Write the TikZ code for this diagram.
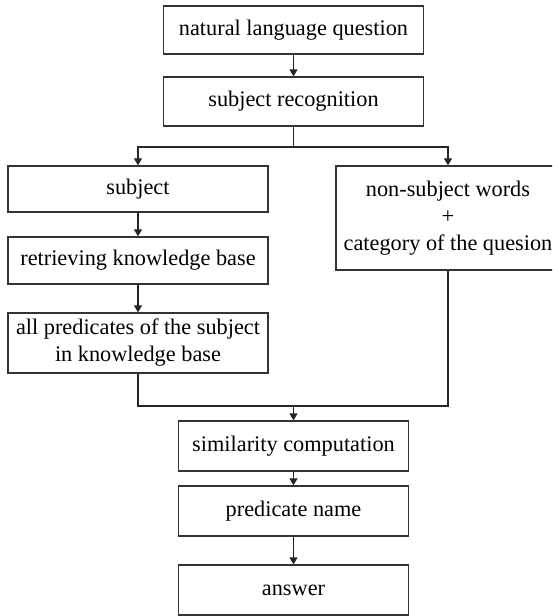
\documentclass[tikz,border=0pt]{standalone}
\usepackage{fontspec}
\setmainfont{Liberation Serif}
\usetikzlibrary{arrows.meta}
\tikzset{
	boite/.style={draw=black!80, line width=1.3pt, inner sep=0pt, align=center,
		font=\fontsize{22.3}{27}\selectfont},
	fleche/.style={draw=black!85, line width=1.2pt, -{Triangle[length=7pt,width=8pt]}},
	trait/.style={draw=black!85, line width=1.2pt}
}
\begin{document}
\begin{tikzpicture}[x=1pt,y=-1pt]
	\useasboundingbox (0,0) rectangle (552,616);
	\clip (0,0) rectangle (552,616);
	% les boites
	\node[boite, minimum width=260pt, minimum height=48pt] (question) at (293.5,30) {natural language question};
	\node[boite, minimum width=260pt, minimum height=49pt] (reco) at (293.5,101.5) {subject recognition};
	\node[boite, minimum width=260pt, minimum height=46pt] (sujet) at (138,189) {subject};
	\node[boite, minimum width=260pt, minimum height=47pt] (recherche) at (138,260.5) {retrieving knowledge base};
	\node[boite, minimum width=260pt, minimum height=60pt] (predicats) at (138,343) {all predicates of the subject\\in knowledge base};
	\node[boite, minimum width=224pt, minimum height=104pt] (autres) at (448,218) {non-subject words\\+\\category of the quesion};
	\node[boite, minimum width=230pt, minimum height=50pt] (similarite) at (293.5,446) {similarity computation};
	\node[boite, minimum width=230pt, minimum height=50pt] (nom) at (293.5,511) {predicate name};
	\node[boite, minimum width=230pt, minimum height=50pt] (reponse) at (293.5,590) {answer};
	% les fleches
	\coordinate (separation) at (293.5,147);
	\coordinate (jonction) at (293.5,406);
	\draw[fleche] (question) -- (reco);
	\draw[trait] (reco) -- (separation);
	\draw[fleche] (separation) -| (sujet);
	\draw[fleche] (separation) -| (autres);
	\draw[fleche] (sujet) -- (recherche);
	\draw[fleche] (recherche) -- (predicats);
	\draw[trait] (predicats) |- (jonction);
	\draw[trait] (autres) |- (jonction);
	\draw[fleche] (jonction) -- (similarite);
	\draw[fleche] (similarite) -- (nom);
	\draw[fleche] (nom) -- (reponse);
\end{tikzpicture}
\end{document}
